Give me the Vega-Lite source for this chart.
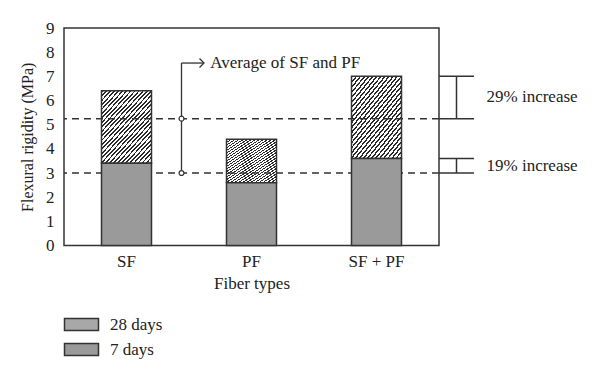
{
  "$schema": "https://vega.github.io/schema/vega-lite/v6.json",
  "width": 375,
  "height": 217.5,
  "autosize": {"type": "none"},
  "padding": {"left": 64, "top": 28, "right": 161, "bottom": 133.5},
  "background": "#ffffff",
  "config": {
    "view": {"stroke": "#333333", "strokeWidth": 1.5},
    "font": "Liberation Serif",
    "axis": {"domain": false, "ticks": false, "grid": false, "labelFont": "Liberation Serif", "labelFontSize": 17, "labelColor": "#222222", "titleFont": "Liberation Serif", "titleFontSize": 17, "titleFontWeight": "normal", "titleColor": "#222222"},
    "axisY": {"labelPadding": 10, "titlePadding": 10, "titleFontSize": 16, "labelOverlap": false},
    "axisX": {"labelPadding": 8, "titlePadding": 6, "labelAngle": 0}
  },
  "datasets": {
    "bars": [
      {"fiber": "SF", "age": "7 days", "value": 3.4},
      {"fiber": "SF", "age": "28 days", "value": 6.4},
      {"fiber": "PF", "age": "7 days", "value": 2.6},
      {"fiber": "PF", "age": "28 days", "value": 4.4},
      {"fiber": "SF + PF", "age": "7 days", "value": 3.6},
      {"fiber": "SF + PF", "age": "28 days", "value": 7.0}
    ],
    "avg": [{"level": 5.25}, {"level": 3.0}],
    "brackets": [
      {"label": "29% increase", "lo": 5.25, "hi": 7.0},
      {"label": "19% increase", "lo": 3.0, "hi": 3.6}
    ],
    "note": [{"label": "Average of SF and PF", "top": 7.55, "bottom": 3.0}]
  },
  "layer": [
    {
      "layer": [
        {
          "data": {"name": "bars"},
          "transform": [
            {"joinaggregate": [{"op": "min", "field": "value", "as": "base"}], "groupby": ["fiber"]},
            {"filter": "datum.age === '28 days'"}
          ],
          "mark": {
            "type": "bar",
            "stroke": "#333333",
            "strokeWidth": 1.5,
            "fill": {
              "gradient": "linear", "x1": 0, "y1": 0, "x2": 0.84, "y2": 1.12,
              "stops": [
                {"offset": 0, "color": "#2b2b2b"}, {"offset": 0.015, "color": "#2b2b2b"}, {"offset": 0.015, "color": "#ffffff"}, {"offset": 0.035, "color": "#ffffff"},
                {"offset": 0.035, "color": "#2b2b2b"}, {"offset": 0.05, "color": "#2b2b2b"}, {"offset": 0.05, "color": "#ffffff"}, {"offset": 0.07, "color": "#ffffff"},
                {"offset": 0.07, "color": "#2b2b2b"}, {"offset": 0.085, "color": "#2b2b2b"}, {"offset": 0.085, "color": "#ffffff"}, {"offset": 0.105, "color": "#ffffff"},
                {"offset": 0.105, "color": "#2b2b2b"}, {"offset": 0.12, "color": "#2b2b2b"}, {"offset": 0.12, "color": "#ffffff"}, {"offset": 0.14, "color": "#ffffff"},
                {"offset": 0.14, "color": "#2b2b2b"}, {"offset": 0.155, "color": "#2b2b2b"}, {"offset": 0.155, "color": "#ffffff"}, {"offset": 0.175, "color": "#ffffff"},
                {"offset": 0.175, "color": "#2b2b2b"}, {"offset": 0.19, "color": "#2b2b2b"}, {"offset": 0.19, "color": "#ffffff"}, {"offset": 0.21, "color": "#ffffff"},
                {"offset": 0.21, "color": "#2b2b2b"}, {"offset": 0.225, "color": "#2b2b2b"}, {"offset": 0.225, "color": "#ffffff"}, {"offset": 0.245, "color": "#ffffff"},
                {"offset": 0.245, "color": "#2b2b2b"}, {"offset": 0.26, "color": "#2b2b2b"}, {"offset": 0.26, "color": "#ffffff"}, {"offset": 0.28, "color": "#ffffff"},
                {"offset": 0.28, "color": "#2b2b2b"}, {"offset": 0.295, "color": "#2b2b2b"}, {"offset": 0.295, "color": "#ffffff"}, {"offset": 0.315, "color": "#ffffff"},
                {"offset": 0.315, "color": "#2b2b2b"}, {"offset": 0.33, "color": "#2b2b2b"}, {"offset": 0.33, "color": "#ffffff"}, {"offset": 0.35, "color": "#ffffff"},
                {"offset": 0.35, "color": "#2b2b2b"}, {"offset": 0.365, "color": "#2b2b2b"}, {"offset": 0.365, "color": "#ffffff"}, {"offset": 0.385, "color": "#ffffff"},
                {"offset": 0.385, "color": "#2b2b2b"}, {"offset": 0.4, "color": "#2b2b2b"}, {"offset": 0.4, "color": "#ffffff"}, {"offset": 0.42, "color": "#ffffff"},
                {"offset": 0.42, "color": "#2b2b2b"}, {"offset": 0.435, "color": "#2b2b2b"}, {"offset": 0.435, "color": "#ffffff"}, {"offset": 0.455, "color": "#ffffff"},
                {"offset": 0.455, "color": "#2b2b2b"}, {"offset": 0.47, "color": "#2b2b2b"}, {"offset": 0.47, "color": "#ffffff"}, {"offset": 0.49, "color": "#ffffff"},
                {"offset": 0.49, "color": "#2b2b2b"}, {"offset": 0.505, "color": "#2b2b2b"}, {"offset": 0.505, "color": "#ffffff"}, {"offset": 0.525, "color": "#ffffff"},
                {"offset": 0.525, "color": "#2b2b2b"}, {"offset": 0.54, "color": "#2b2b2b"}, {"offset": 0.54, "color": "#ffffff"}, {"offset": 0.56, "color": "#ffffff"},
                {"offset": 0.56, "color": "#2b2b2b"}, {"offset": 0.575, "color": "#2b2b2b"}, {"offset": 0.575, "color": "#ffffff"}, {"offset": 0.595, "color": "#ffffff"},
                {"offset": 0.595, "color": "#2b2b2b"}, {"offset": 0.61, "color": "#2b2b2b"}, {"offset": 0.61, "color": "#ffffff"}, {"offset": 0.63, "color": "#ffffff"},
                {"offset": 0.63, "color": "#2b2b2b"}, {"offset": 0.645, "color": "#2b2b2b"}, {"offset": 0.645, "color": "#ffffff"}, {"offset": 0.665, "color": "#ffffff"},
                {"offset": 0.665, "color": "#2b2b2b"}, {"offset": 0.68, "color": "#2b2b2b"}, {"offset": 0.68, "color": "#ffffff"}, {"offset": 0.7, "color": "#ffffff"},
                {"offset": 0.7, "color": "#2b2b2b"}, {"offset": 0.715, "color": "#2b2b2b"}, {"offset": 0.715, "color": "#ffffff"}, {"offset": 0.735, "color": "#ffffff"},
                {"offset": 0.735, "color": "#2b2b2b"}, {"offset": 0.75, "color": "#2b2b2b"}, {"offset": 0.75, "color": "#ffffff"}, {"offset": 0.77, "color": "#ffffff"},
                {"offset": 0.77, "color": "#2b2b2b"}, {"offset": 0.785, "color": "#2b2b2b"}, {"offset": 0.785, "color": "#ffffff"}, {"offset": 0.805, "color": "#ffffff"},
                {"offset": 0.805, "color": "#2b2b2b"}, {"offset": 0.82, "color": "#2b2b2b"}, {"offset": 0.82, "color": "#ffffff"}, {"offset": 0.84, "color": "#ffffff"},
                {"offset": 0.84, "color": "#2b2b2b"}, {"offset": 0.855, "color": "#2b2b2b"}, {"offset": 0.855, "color": "#ffffff"}, {"offset": 0.875, "color": "#ffffff"},
                {"offset": 0.875, "color": "#2b2b2b"}, {"offset": 0.89, "color": "#2b2b2b"}, {"offset": 0.89, "color": "#ffffff"}, {"offset": 0.91, "color": "#ffffff"},
                {"offset": 0.91, "color": "#2b2b2b"}, {"offset": 0.925, "color": "#2b2b2b"}, {"offset": 0.925, "color": "#ffffff"}, {"offset": 0.945, "color": "#ffffff"},
                {"offset": 0.945, "color": "#2b2b2b"}, {"offset": 0.96, "color": "#2b2b2b"}, {"offset": 0.96, "color": "#ffffff"}, {"offset": 0.98, "color": "#ffffff"},
                {"offset": 0.98, "color": "#2b2b2b"}, {"offset": 0.995, "color": "#2b2b2b"}, {"offset": 0.995, "color": "#ffffff"}, {"offset": 1, "color": "#ffffff"}
              ]
            }
          },
          "encoding": {
            "x": {"field": "fiber", "type": "nominal", "title": "Fiber types", "scale": {"domain": ["SF", "PF", "SF + PF"], "paddingInner": 0.6, "paddingOuter": 0.3}},
            "y": {"field": "value", "type": "quantitative", "title": "Flexural rigidity (MPa)", "scale": {"domain": [0, 9], "nice": false}, "axis": {"values": [0, 1, 2, 3, 4, 5, 6, 7, 8, 9], "labelOverlap": false}},
            "y2": {"field": "base"}
          }
        },
        {
          "data": {"name": "avg"},
          "mark": {"type": "rule", "stroke": "#333333", "strokeWidth": 1.5, "strokeDash": [7, 5]},
          "encoding": {
            "y": {"field": "level", "type": "quantitative", "title": "Flexural rigidity (MPa)", "axis": {"values": [0, 1, 2, 3, 4, 5, 6, 7, 8, 9], "labelOverlap": false}}
          }
        },
        {
          "data": {"name": "bars"},
          "transform": [{"filter": "datum.age === '7 days'"}],
          "mark": {"type": "bar", "stroke": "#333333", "strokeWidth": 1.5, "opacity": 1},
          "encoding": {
            "x": {"field": "fiber", "type": "nominal", "title": "Fiber types", "scale": {"domain": ["SF", "PF", "SF + PF"], "paddingInner": 0.6, "paddingOuter": 0.3}},
            "y": {"field": "value", "type": "quantitative", "title": "Flexural rigidity (MPa)", "axis": {"values": [0, 1, 2, 3, 4, 5, 6, 7, 8, 9], "labelOverlap": false}},
            "color": {
              "field": "age", "type": "nominal",
              "scale": {"domain": ["28 days", "7 days"], "range": ["#a8a8a8", "#9a9a9a"]},
              "legend": {
                "title": null, "orient": "none", "legendX": 9, "legendY": 288,
                "symbolType": "M-2.833,-1H2.833V1H-2.833Z", "symbolSize": 144,
                "symbolStrokeWidth": 1.5, "symbolOpacity": 1,
                "labelFont": "Liberation Serif", "labelFontSize": 17, "labelColor": "#222222",
                "labelOffset": 20, "rowPadding": 6, "padding": 0,
                "encode": {
                  "symbols": {
                    "update": {
                      "stroke": {"value": "#333333"},
                      "strokeWidth": {"value": 1.5}
                    }
                  }
                }
              }
            }
          }
        }
      ]
    },
    {
      "layer": [
        {
          "data": {"name": "brackets"},
          "mark": {"type": "rule", "stroke": "#333333", "strokeWidth": 1.5},
          "encoding": {
            "x": {"datum": 3.5, "type": "quantitative", "scale": {"domain": [0.5, 3.5]}, "axis": null},
            "x2": {"datum": 3.78},
            "y": {"field": "hi", "type": "quantitative", "title": "Flexural rigidity (MPa)", "axis": {"values": [0, 1, 2, 3, 4, 5, 6, 7, 8, 9], "labelOverlap": false}}
          }
        },
        {
          "data": {"name": "brackets"},
          "mark": {"type": "rule", "stroke": "#333333", "strokeWidth": 1.5},
          "encoding": {
            "x": {"datum": 3.5, "type": "quantitative", "scale": {"domain": [0.5, 3.5]}, "axis": null},
            "x2": {"datum": 3.78},
            "y": {"field": "lo", "type": "quantitative", "title": "Flexural rigidity (MPa)", "axis": {"values": [0, 1, 2, 3, 4, 5, 6, 7, 8, 9], "labelOverlap": false}}
          }
        },
        {
          "data": {"name": "brackets"},
          "mark": {"type": "rule", "stroke": "#333333", "strokeWidth": 1.5},
          "encoding": {
            "x": {"datum": 3.64, "type": "quantitative", "scale": {"domain": [0.5, 3.5]}, "axis": null},
            "y": {"field": "hi", "type": "quantitative", "title": "Flexural rigidity (MPa)", "axis": {"values": [0, 1, 2, 3, 4, 5, 6, 7, 8, 9], "labelOverlap": false}},
            "y2": {"field": "lo"}
          }
        },
        {
          "data": {"name": "brackets"},
          "transform": [{"calculate": "(datum.lo + datum.hi) / 2", "as": "mid"}],
          "mark": {"type": "text", "align": "left", "baseline": "middle", "font": "Liberation Serif", "fontSize": 17, "color": "#222222"},
          "encoding": {
            "x": {"datum": 3.88, "type": "quantitative", "scale": {"domain": [0.5, 3.5]}, "axis": null},
            "y": {"field": "mid", "type": "quantitative", "title": "Flexural rigidity (MPa)", "axis": {"values": [0, 1, 2, 3, 4, 5, 6, 7, 8, 9], "labelOverlap": false}},
            "text": {"field": "label"}
          }
        },
        {
          "data": {"name": "note"},
          "mark": {"type": "rule", "stroke": "#333333", "strokeWidth": 1.3},
          "encoding": {
            "x": {"datum": 1.44, "type": "quantitative", "scale": {"domain": [0.5, 3.5]}, "axis": null},
            "y": {"field": "top", "type": "quantitative", "title": "Flexural rigidity (MPa)", "axis": {"values": [0, 1, 2, 3, 4, 5, 6, 7, 8, 9], "labelOverlap": false}},
            "y2": {"field": "bottom"}
          }
        },
        {
          "data": {"name": "note"},
          "mark": {"type": "rule", "stroke": "#333333", "strokeWidth": 1.3},
          "encoding": {
            "x": {"datum": 1.44, "type": "quantitative", "scale": {"domain": [0.5, 3.5]}, "axis": null},
            "x2": {"datum": 1.62},
            "y": {"field": "top", "type": "quantitative", "title": "Flexural rigidity (MPa)", "axis": {"values": [0, 1, 2, 3, 4, 5, 6, 7, 8, 9], "labelOverlap": false}}
          }
        },
        {
          "data": {"name": "note"},
          "mark": {"type": "point", "shape": "M-1,-1L0,0L-1,1", "size": 81, "filled": false, "stroke": "#333333", "strokeWidth": 1.3, "opacity": 1},
          "encoding": {
            "x": {"datum": 1.62, "type": "quantitative", "scale": {"domain": [0.5, 3.5]}, "axis": null},
            "y": {"field": "top", "type": "quantitative", "title": "Flexural rigidity (MPa)", "axis": {"values": [0, 1, 2, 3, 4, 5, 6, 7, 8, 9], "labelOverlap": false}}
          }
        },
        {
          "data": {"name": "note"},
          "mark": {"type": "text", "align": "left", "baseline": "middle", "font": "Liberation Serif", "fontSize": 17, "color": "#222222"},
          "encoding": {
            "x": {"datum": 1.67, "type": "quantitative", "scale": {"domain": [0.5, 3.5]}, "axis": null},
            "y": {"field": "top", "type": "quantitative", "title": "Flexural rigidity (MPa)", "axis": {"values": [0, 1, 2, 3, 4, 5, 6, 7, 8, 9], "labelOverlap": false}},
            "text": {"field": "label"}
          }
        },
        {
          "data": {"name": "avg"},
          "mark": {"type": "point", "shape": "circle", "size": 24, "filled": true, "fill": "#ffffff", "stroke": "#333333", "strokeWidth": 1.2, "opacity": 1},
          "encoding": {
            "x": {"datum": 1.44, "type": "quantitative", "scale": {"domain": [0.5, 3.5]}, "axis": null},
            "y": {"field": "level", "type": "quantitative", "title": "Flexural rigidity (MPa)", "axis": {"values": [0, 1, 2, 3, 4, 5, 6, 7, 8, 9], "labelOverlap": false}}
          }
        }
      ]
    }
  ],
  "resolve": {"scale": {"x": "independent"}}
}
